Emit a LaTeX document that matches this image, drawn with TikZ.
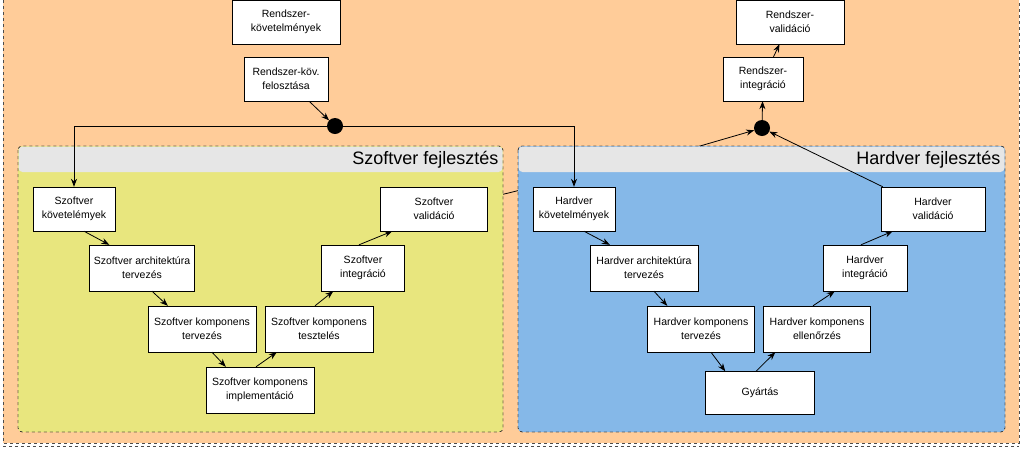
\documentclass[tikz,border=0pt]{standalone}
\usepackage{fontspec}
\setmainfont{Liberation Sans}
\usetikzlibrary{arrows.meta,calc}
\definecolor{outerc}{HTML}{FFCC99}
\definecolor{swc}{HTML}{E8E67E}
\definecolor{hwc}{HTML}{85B8E8}
\definecolor{headc}{HTML}{E6E6E6}
\tikzset{
  stepbox/.style={draw=black, fill=white, align=center, font=\fontsize{10.5}{14}\selectfont, inner sep=1pt},
  dot/.style={circle, fill=black, inner sep=0pt, minimum size=16pt},
  link/.style={-{Stealth[length=8pt,width=6pt]}, thick},
  group/.style={draw=black!85, dashed, rounded corners=4pt}
}
\newcommand{\stepnode}[6]{\node[stepbox, minimum width=#4, minimum height=#5] (#1) at (#2,#3) {#6};}
\begin{document}
\begin{tikzpicture}[x=1pt,y=-1pt]
\useasboundingbox (0,0) rectangle (1023,448);
% outer frame
\draw[fill=outerc, draw=black!70, dashed] (3,-6) rectangle (1019,443);
\draw[black!70, dashed] (3,446) -- (1019,446);
% system level
\stepnode{rkov}{286}{22}{108pt}{44pt}{Rendszer-\\követelmények}
\stepnode{rfel}{286}{79}{84pt}{44pt}{Rendszer-köv.\\felosztása}
\stepnode{rval}{790}{22}{108pt}{44pt}{Rendszer-\\validáció}
\stepnode{rint}{763}{79}{80pt}{44pt}{Rendszer-\\integráció}
\node[dot] (split) at (335,126) {};
\node[dot] (join) at (762,128) {};
\coordinate (hidden) at (700,146);
\node[inner sep=0pt] (sval0) at (488,198) {};
\draw[thick] (sval0) -- (hidden);
% groups
\draw[group, fill=swc] (18,146) rectangle (503,432);
\fill[headc, rounded corners=4pt] (18.5,146.5) rectangle (502.5,172);
\draw[group] (18,146) rectangle (503,432);
\node[anchor=east, font=\fontsize{18}{20}\selectfont] (swtitle) at (502,160) {Szoftver fejlesztés};
\draw[group, fill=hwc] (518,146) rectangle (1005,432);
\fill[headc, rounded corners=4pt] (518.5,146.5) rectangle (1004.5,172);
\draw[group] (518,146) rectangle (1005,432);
\node[anchor=east, font=\fontsize{18}{20}\selectfont] (hwtitle) at (1004,160) {Hardver fejlesztés};
% software
\stepnode{skov}{74}{209}{82pt}{44pt}{Szoftver\\követelémyek}
\stepnode{sarch}{142}{268}{105pt}{46pt}{Szoftver architektúra\\tervezés}
\stepnode{skt}{202}{329}{108pt}{46pt}{Szoftver komponens\\tervezés}
\stepnode{simp}{260}{390}{108pt}{46pt}{Szoftver komponens\\implementáció}
\stepnode{stest}{319}{329}{108pt}{46pt}{Szoftver komponens\\tesztelés}
\stepnode{sint}{363}{268}{83pt}{46pt}{Szoftver\\integráció}
\stepnode{sval}{434}{209}{107pt}{44pt}{Szoftver\\validáció}
% hardware
\stepnode{hkov}{574}{209}{82pt}{44pt}{Hardver\\követelmények}
\stepnode{harch}{644}{268}{108pt}{46pt}{Hardver architektúra\\tervezés}
\stepnode{hkt}{701}{329}{107pt}{46pt}{Hardver komponens\\tervezés}
\stepnode{hgy}{760}{393}{109pt}{43pt}{Gyártás}
\stepnode{hell}{817}{329}{107pt}{46pt}{Hardver komponens\\ellenőrzés}
\stepnode{hint}{865}{268}{84pt}{46pt}{Hardver\\integráció}
\stepnode{hval}{933}{209}{104pt}{44pt}{Hardver\\validáció}
% connectors
\draw[link] (rfel) -- (split);
\draw[link] (split) -| (skov.north);
\draw[link] (split) -| (hkov.north);
\draw[link] (hidden) -- (join);
\draw[link] ($(hval.north west)+(2,0)$) -- (join);
\draw[link] (join) -- (rint);
\draw[link] (rint) -- (rval);
\foreach \a/\b in {skov/sarch, sarch/skt, skt/simp, hkov/harch, harch/hkt, hkt/hgy}
  \draw[link] ($(\a.south)+(10,0)$) -- ($(\b.north west)+(20,0)$);
\foreach \a/\b in {simp/stest, stest/sint, sint/sval, hgy/hell, hell/hint, hint/hval}
  \draw[link] ($(\a.north)+(-4,0)$) -- ($(\b.south west)+(12,0)$);
\end{tikzpicture}
\end{document}
